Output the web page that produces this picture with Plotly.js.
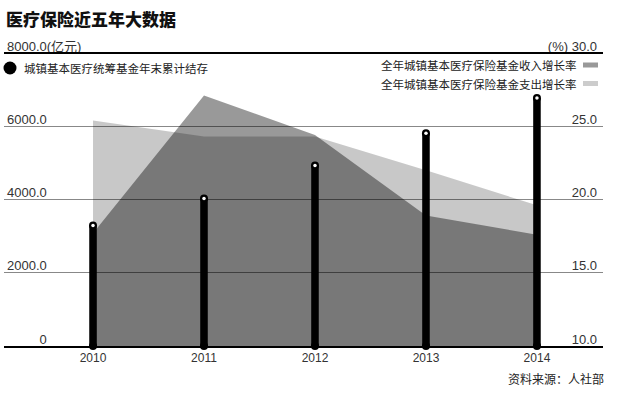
<!DOCTYPE html>
<html>
<head>
<meta charset="utf-8">
<script src="https://cdn.plot.ly/plotly-3.0.1.min.js"></script>
<style>html,body{margin:0;padding:0;background:#fff;}#chart{width:626px;height:395px;}</style>
</head>
<body>
<div id="chart"></div>
<script>
// ---- data ----
const years = [2010, 2011, 2012, 2013, 2014];
const balance = [3290, 4030, 4930, 5810, 6770];           // 城镇基本医疗统筹基金年末累计结存 (亿元)
const incomeGrowth = [17.7, 27.1, 24.4, 18.9, 17.6];      // 收入增长率 (%)
const expenseGrowth = [25.4, 24.3, 24.3, 22.0, 19.6];     // 支出增长率 (%)
const leftTickVals = [0, 2000, 4000, 6000, 8000];
const leftTickText = ['\u2007\u2007\u2007\u2007\u20080', '2000.0', '4000.0', '6000.0', '8000.0(亿元)'];
const rightTickVals = [10, 15, 20, 25, 30];
const rightTickText = ['10.0', '15.0', '20.0', '25.0', '(%)\u00a030.0'];
const seriesNames = ['城镇基本医疗统筹基金年末累计结存', '全年城镇基本医疗保险基金收入增长率', '全年城镇基本医疗保险基金支出增长率'];
const titleText = '医疗保险近五年大数据';
const sourceText = '资料来源：人社部';

// ---- geometry helpers (plot area in pixels) ----
const L = 4, R = 603, T = 53, B = 346;
const W = R - L, H = B - T;
const px = v => (v - L) / W;
const py = v => (B - v) / H;

const FONT = 'Liberation Sans, Arial, Noto Sans CJK SC, sans-serif';
const CJK = 'Noto Sans CJK SC, Liberation Sans, sans-serif';

const traces = [
  { type: 'scatter', x: years, y: expenseGrowth, yaxis: 'y', mode: 'lines',
    line: { width: 0 }, fill: 'tozeroy', fillcolor: 'rgba(0,0,0,0.215)', name: seriesNames[2], hoverinfo: 'skip' },
  { type: 'scatter', x: years, y: incomeGrowth, yaxis: 'y', mode: 'lines',
    line: { width: 0 }, fill: 'tozeroy', fillcolor: 'rgba(0,0,0,0.40)', name: seriesNames[1], hoverinfo: 'skip' },
  { type: 'bar', x: years, y: balance, yaxis: 'y2', width: 0.068,
    marker: { color: '#000', line: { width: 0 } }, name: seriesNames[0] },
  { type: 'scatter', x: years, y: balance, yaxis: 'y2', mode: 'markers', cliponaxis: false,
    marker: { symbol: 'circle', size: 8, color: '#000', line: { width: 0 } }, hoverinfo: 'skip' },
  { type: 'scatter', x: years, y: balance.map(() => 0), yaxis: 'y2', mode: 'markers', cliponaxis: false,
    marker: { symbol: 'circle', size: 8, color: '#000', line: { width: 0 } }, hoverinfo: 'skip' },
  { type: 'scatter', x: years, y: balance, yaxis: 'y2', mode: 'markers', cliponaxis: false,
    marker: { symbol: 'circle', size: 3.5, color: '#fff', line: { width: 0 } }, hoverinfo: 'skip' }
];

const layout = {
  width: 626, height: 395,
  margin: { l: L, r: 626 - R, t: T, b: 395 - B, pad: 0 },
  paper_bgcolor: '#fff', plot_bgcolor: '#fff',
  showlegend: false,
  hovermode: false,
  font: { family: FONT, color: '#222', size: 13 },
  title: { text: titleText, x: 6 / 626, xanchor: 'left', xref: 'container',
           y: 1 - 20 / 395, yanchor: 'middle', yref: 'container',
           font: { family: CJK, size: 17, weight: 900, color: '#111' } },
  xaxis: { range: [2009.198, 2014.595], tickvals: years, ticktext: years.map(String),
           ticks: '', showgrid: false, zeroline: false,
           showline: true, linecolor: '#000', linewidth: 2,
           tickfont: { size: 12, color: '#333' } },
  yaxis: { range: [10, 30], side: 'right', tickvals: rightTickVals, ticktext: rightTickText,
           ticks: '', showgrid: false, zeroline: false, showline: false,
           ticklabelposition: 'inside', ticklabeloverflow: 'allow', ticklabelshift: -7, ticklabelstandoff: 3,
           tickfont: { size: 13, color: '#333' } },
  yaxis2: { range: [0, 8000], overlaying: 'y', side: 'left', tickvals: leftTickVals, ticktext: leftTickText,
            ticks: '', showgrid: true, gridcolor: '#888', gridwidth: 1, zeroline: false, showline: false,
            ticklabelposition: 'inside', ticklabeloverflow: 'allow', ticklabelshift: -7,
            tickfont: { size: 13, color: '#333' } },
  shapes: [
    { type: 'line', xref: 'paper', yref: 'paper', x0: 0, x1: 1, y0: 1, y1: 1,
      line: { color: '#000', width: 2 } },
    { type: 'circle', xref: 'paper', yref: 'paper',
      x0: px(3.5), x1: px(16.5), y0: py(74.5), y1: py(61.5),
      fillcolor: '#000', line: { width: 0 } },
    { type: 'rect', xref: 'paper', yref: 'paper',
      x0: px(583), x1: px(598), y0: py(67.5), y1: py(62.5),
      fillcolor: '#999', line: { width: 0 } },
    { type: 'rect', xref: 'paper', yref: 'paper',
      x0: px(583), x1: px(598), y0: py(86), y1: py(81),
      fillcolor: '#ccc', line: { width: 0 } }
  ],
  annotations: [
    { text: seriesNames[0], xref: 'paper', yref: 'paper', x: px(22), y: py(68),
      xanchor: 'left', yanchor: 'middle', showarrow: false, font: { family: CJK, size: 11.5, color: '#222' } },
    { text: seriesNames[1], xref: 'paper', yref: 'paper', x: px(579), y: py(65.5),
      xanchor: 'right', yanchor: 'middle', showarrow: false, font: { family: CJK, size: 11.5, color: '#222' } },
    { text: seriesNames[2], xref: 'paper', yref: 'paper', x: px(579), y: py(84),
      xanchor: 'right', yanchor: 'middle', showarrow: false, font: { family: CJK, size: 11.5, color: '#222' } },
    { text: sourceText, xref: 'paper', yref: 'paper', x: px(606), y: py(378),
      xanchor: 'right', yanchor: 'middle', showarrow: false, font: { family: CJK, size: 12, color: '#222' } }
  ]
};

Plotly.newPlot('chart', traces, layout, { displayModeBar: false, staticPlot: true });
</script>
</body>
</html>
